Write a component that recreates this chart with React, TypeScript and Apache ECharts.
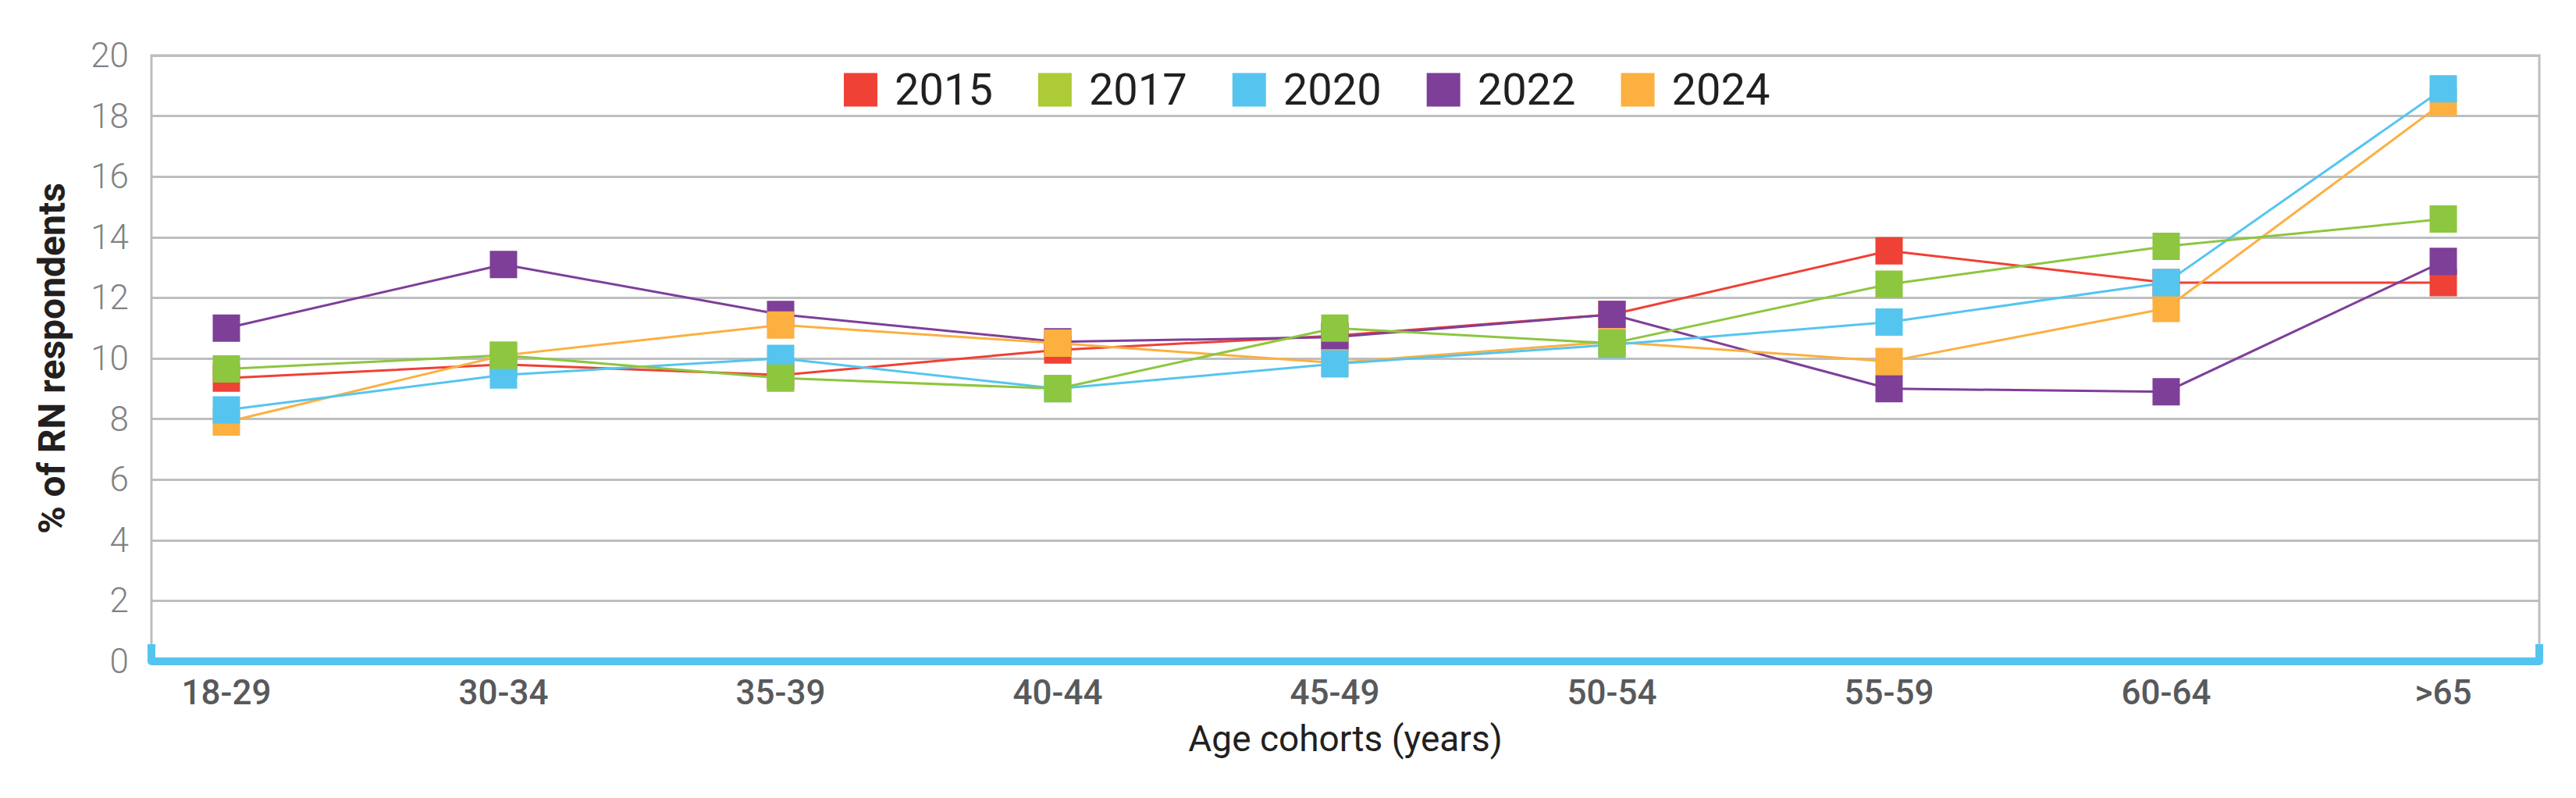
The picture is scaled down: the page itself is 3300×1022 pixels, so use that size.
import React, { useEffect, useRef } from "react";
import * as echarts from "echarts";

const categories = ["18-29", "30-34", "35-39", "40-44", "45-49", "50-54", "55-59", "60-64", ">65"];
const years = ["2015", "2017", "2020", "2022", "2024"];
const s2015 = [9.35, 9.8, 9.45, 10.28, 10.75, 11.45, 13.55, 12.5, 12.5];
const s2017 = [9.65, 10.1, 9.35, 9.0, 11.0, 10.5, 12.45, 13.7, 14.6];
const s2020 = [8.3, 9.45, 10.0, 9.0, 9.82, 10.45, 11.2, 12.5, 18.9];
const s2022 = [11.0, 13.1, 11.45, 10.55, 10.7, 11.45, 9.0, 8.9, 13.2];
const s2024 = [7.9, 10.1, 11.1, 10.5, 9.85, 10.55, 9.9, 11.65, 18.45];
const yMin = 0;
const yMax = 20;
const yInterval = 2;

const FONT = "Roboto, 'Open Sans', sans-serif";

export default function App() {
  const ref = useRef<HTMLDivElement>(null);
  useEffect(() => {
    if (!ref.current) return;
    const chart = echarts.init(ref.current, null, { renderer: "svg" });
    const colors: Record<string, string> = {
      "2015": "#ef4136",
      "2017": "#8dc63f",
      "2020": "#55c5ef",
      "2022": "#7e3f98",
      "2024": "#fbb040",
    };
    const legendColors: Record<string, string> = { ...colors, "2017": "#adca37" };
    const values: Record<string, number[]> = {
      "2015": s2015,
      "2017": s2017,
      "2020": s2020,
      "2022": s2022,
      "2024": s2024,
    };
    const zOrder: Record<string, number> = { "2015": 2, "2022": 3, "2024": 4, "2020": 5, "2017": 6 };

    const series = years.map((y) => ({
      name: y,
      type: "line",
      xAxisIndex: 1,
      yAxisIndex: 1,
      data: values[y],
      symbol: "rect",
      symbolSize: 35,
      z: zOrder[y],
      lineStyle: { width: 3, color: colors[y] },
      itemStyle: { color: colors[y] },
      emphasis: { disabled: true },
    }));

    chart.setOption({
      animation: false,
      textStyle: { fontFamily: FONT },
      legend: {
        left: 1081,
        top: 87,
        padding: 0,
        itemWidth: 43,
        itemHeight: 43,
        itemGap: 58,
        selectedMode: false,
        data: years.map((y) => ({ name: y, icon: "rect", itemStyle: { color: legendColors[y] } })),
        textStyle: { fontSize: 56, color: "#231f20", fontFamily: FONT, padding: [0, 0, 0, 17] },
      },
      grid: [
        {
          left: 194,
          right: 47,
          top: 71,
          bottom: 175,
          show: true,
          borderColor: "#bcbec0",
          borderWidth: 3,
          backgroundColor: "transparent",
        },
        { left: 290, right: 170, top: 71, bottom: 175 },
      ],
      xAxis: [
        {
          type: "value",
          gridIndex: 0,
          min: 0,
          max: 1,
          interval: 1,
          axisLine: { show: true, lineStyle: { color: "#55c5ef", width: 10 } },
          axisTick: { show: true, inside: true, length: 22, lineStyle: { color: "#55c5ef", width: 10 } },
          axisLabel: { show: false },
          splitLine: { show: false },
          name: "Age cohorts (years)",
          nameLocation: "middle",
          nameGap: 76,
          nameTextStyle: { fontSize: 46, color: "#231f20", fontFamily: FONT },
          z: 10,
        },
        {
          type: "category",
          gridIndex: 1,
          data: categories,
          boundaryGap: false,
          axisLine: { show: false },
          axisTick: { show: false },
          splitLine: { show: false },
          axisLabel: { fontSize: 44, color: "#58595b", fontWeight: 500, margin: 18, fontFamily: FONT },
        },
      ],
      yAxis: [
        {
          type: "value",
          gridIndex: 0,
          min: yMin,
          max: yMax,
          interval: yInterval,
          axisLine: { show: false },
          axisTick: { show: false },
          splitLine: { show: true, lineStyle: { color: "#bcbec0", width: 3 } },
          axisLabel: { fontSize: 44, color: "#808285", fontWeight: 300, margin: 29, fontFamily: FONT },
          name: "% of RN respondents",
          nameLocation: "middle",
          nameGap: 104,
          nameTextStyle: { fontSize: 48, fontWeight: "bold", color: "#231f20", fontFamily: FONT },
        },
        {
          type: "value",
          gridIndex: 1,
          min: yMin,
          max: yMax,
          interval: yInterval,
          show: false,
          splitLine: { show: false },
        },
      ],
      series,
    });
    return () => chart.dispose();
  }, []);
  return (
    <div
      ref={ref}
      style={{ position: "absolute", left: 0, top: 0, width: "3300px", height: "1022px", background: "#fff" }}
    />
  );
}
